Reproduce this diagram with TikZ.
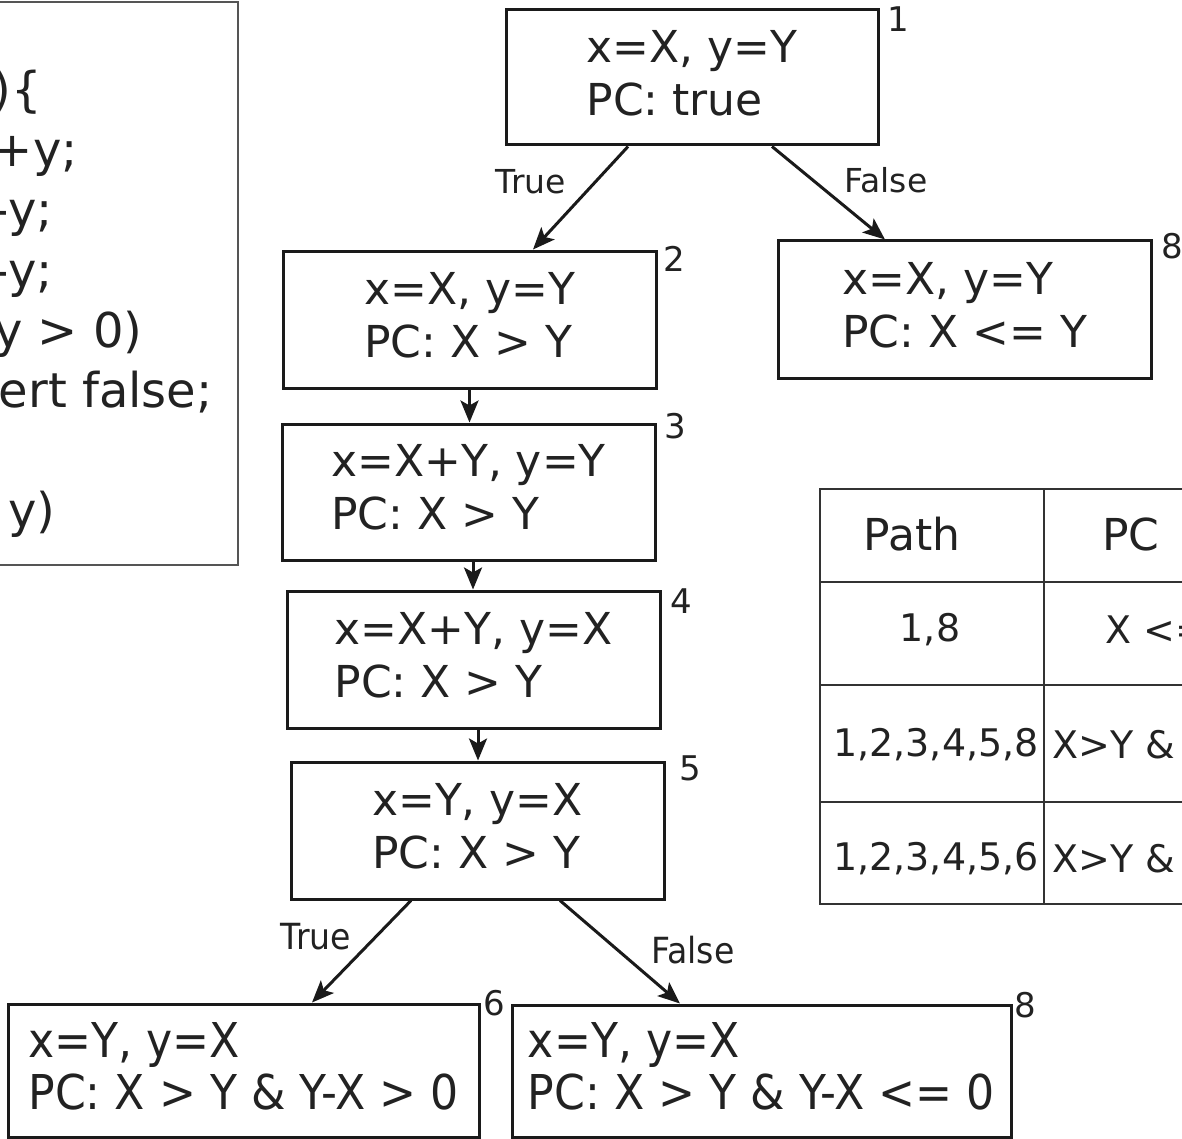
\documentclass[tikz,border=0pt]{standalone}
\usepackage{fontspec}
\setmainfont{DejaVu Sans}
\newfontfamily\condfont{DejaVu Sans}[FakeStretch=0.92]
\usetikzlibrary{arrows.meta,calc}
\definecolor{ink}{HTML}{222222}
\definecolor{frameink}{HTML}{1A1A1A}
\definecolor{codeframe}{HTML}{555555}
\definecolor{tableink}{HTML}{333333}
\begin{document}
\begin{tikzpicture}[x=0.5pt,y=-0.5pt,
  statebox/.style={draw=frameink, line width=1.5pt, align=left, text=ink, inner sep=0pt,
    text depth=5pt, font=\fontsize{22}{26.5}\selectfont},
  leafbox/.style={draw=frameink, line width=1.5pt, align=left, text=ink, inner sep=0pt,
    text depth=5pt, font=\condfont\fontsize{24}{26}\selectfont},
  edgelbl/.style={text=ink, inner sep=0pt, font=\fontsize{16.5}{18}\selectfont},
  leaflbl/.style={text=ink, inner sep=0pt, font=\condfont\fontsize{18}{20}\selectfont},
  numlbl/.style={text=ink, inner sep=0pt, font=\fontsize{17}{19}\selectfont},
  codeline/.style={text=ink, inner sep=0pt, anchor=base east, font=\fontsize{24}{30}\selectfont},
  headcell/.style={text=ink, inner sep=0pt, font=\fontsize{22}{24}\selectfont},
  cell/.style={text=ink, inner sep=0pt, font=\fontsize{19}{21}\selectfont},
  flow/.style={draw=frameink, line width=1.5pt, -{Stealth[length=11pt,width=9pt,inset=2.5pt]}},
  tline/.style={draw=tableink, line width=0.8pt}
]
\useasboundingbox (0,0) rectangle (1182,1139);

% code box (cropped)
\draw[codeframe, line width=1.2pt] (-20,2) rectangle (238,565);
\node[codeline] (c1) at (42,107) {)\{};
\node[codeline] (c2) at (78,167) {+y;};
\node[codeline] (c3) at (53,227) {-y;};
\node[codeline] (c4) at (53,287) {-y;};
\node[codeline] (c5) at (143,347) {y > 0)};
\node[codeline] (c6) at (213,407) {ert false;};
\node[codeline] (c7) at (56,527) {y)};

% state boxes
\node[statebox, minimum width=186pt, minimum height=67.5pt] (n1) at (692,77.5) {x=X, y=Y\\PC: true};
\node[statebox, minimum width=186.5pt, minimum height=68.5pt] (n2) at (469.5,319.5) {x=X, y=Y\\PC: X > Y};
\node[statebox, minimum width=186.5pt, minimum height=68.5pt] (n8) at (964.5,309.5) {x=X, y=Y\\PC: X <= Y};
\node[statebox, minimum width=186.5pt, minimum height=68pt] (n3) at (468.5,492) {x=X+Y, y=Y\\PC: X > Y};
\node[statebox, minimum width=186.5pt, minimum height=68.5pt] (n4) at (473.5,659.5) {x=X+Y, y=X\\PC: X > Y};
\node[statebox, minimum width=186.5pt, minimum height=68.5pt] (n5) at (477.5,830.5) {x=Y, y=X\\PC: X > Y};
\node[leafbox, minimum width=235.5pt, minimum height=66.5pt] (n6) at (243.5,1070.5) {x=Y, y=X\\PC: X > Y \& Y-X > 0};
\node[leafbox, minimum width=249.5pt, minimum height=66pt] (n8b) at (761.5,1071) {x=Y, y=X\\PC: X > Y \& Y-X <= 0};

% node numbers
\node[numlbl] (k1) at (898,19) {1};
\node[numlbl] (k2) at (674,259) {2};
\node[numlbl] (k8) at (1172,246) {8};
\node[numlbl] (k3) at (675,426) {3};
\node[numlbl] (k4) at (681,601) {4};
\node[numlbl] (k5) at (690,768) {5};
\node[numlbl] (k6) at (494,1003) {6};
\node[numlbl] (k8b) at (1025,1005) {8};

% connectors
\draw[flow] ([xshift=-32pt]n1.south) -- ([xshift=31.75pt]n2.north);
\draw[flow] ([xshift=40pt]n1.south) -- ([xshift=-39.75pt]n8.north);
\draw[flow] (n2.south) -- (n2.south |- n3.north);
\draw[flow] ([xshift=2.25pt]n3.south) -- ([xshift=2.25pt]n3.south |- n4.north);
\draw[flow] ([xshift=2.25pt]n4.south) -- ([xshift=2.25pt]n4.south |- n5.north);
\draw[flow] ([xshift=-33.25pt]n5.south) -- ([xshift=34.25pt]n6.north);
\draw[flow] ([xshift=41.25pt]n5.south) -- ([xshift=-40.75pt]n8b.north);

\node[edgelbl] (lt1) at (531,182) {True};
\node[edgelbl] (lf1) at (886,180) {False};
\node[leaflbl] (lt2) at (316,937) {True};
\node[leaflbl] (lf2) at (693,950) {False};

% table (cropped)
\draw[tline] (1200,489) -- (820,489) -- (820,904) -- (1200,904);
\draw[tline] (820,582) -- (1200,582);
\draw[tline] (820,685) -- (1200,685);
\draw[tline] (820,802) -- (1200,802);
\draw[tline] (1044,489) -- (1044,904);
\node[headcell] (h1) at (912,534) {Path};
\node[headcell, anchor=west] (h2) at (1102,534) {PC};
\node[cell] (r1a) at (930,630) {1,8};
\node[cell, anchor=west] (r1b) at (1105,630) {X <=};
\node[cell] (r2a) at (936,745) {1,2,3,4,5,8};
\node[cell, anchor=west] (r2b) at (1052,745) {X>Y \&};
\node[cell] (r3a) at (936,859) {1,2,3,4,5,6};
\node[cell, anchor=west] (r3b) at (1052,859) {X>Y \&};
\end{tikzpicture}
\end{document}
